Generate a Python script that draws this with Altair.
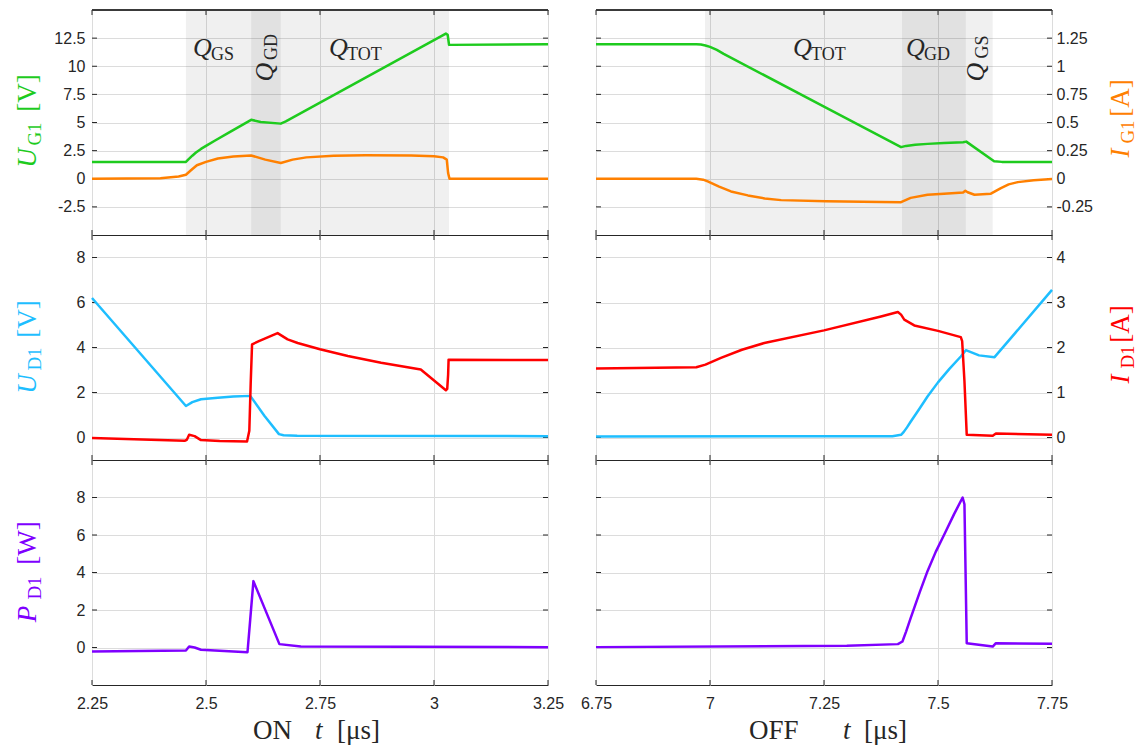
import altair as alt
import pandas as pd

# ---------------- data ----------------
ON_T_UG1 = [2.25, 2.456, 2.462, 2.47, 2.478, 2.489, 2.50, 2.52, 2.55, 2.599, 2.62, 2.664, 2.675,
            3.026, 3.030, 3.033, 3.25]
ON_UG1 = [1.5, 1.5, 1.75, 2.05, 2.33, 2.65, 2.92, 3.4, 4.1, 5.24, 5.05, 4.9, 5.1,
          12.9, 12.8, 11.9, 11.95]
ON_T_IG1 = [2.25, 2.40, 2.44, 2.456, 2.467, 2.48, 2.50, 2.526, 2.56, 2.599, 2.63, 2.664, 2.69,
            2.72, 2.78, 2.85, 2.95, 3.0, 3.02, 3.028, 3.031, 3.034, 3.25]
ON_IG1 = [0.0, 0.005, 0.02, 0.036, 0.075, 0.12, 0.15, 0.18, 0.197, 0.207, 0.17, 0.14, 0.17,
          0.19, 0.205, 0.208, 0.207, 0.2, 0.19, 0.17, 0.05, 0.0, 0.0]

OFF_T_UG1 = [6.75, 6.97, 6.98, 6.99, 7.0, 7.015, 7.03, 7.25, 7.419, 7.43, 7.45, 7.477,
             7.513, 7.555, 7.562, 7.623, 7.64, 7.75]
OFF_UG1 = [11.95, 11.95, 11.93, 11.85, 11.72, 11.45, 11.1, 6.41, 2.81, 2.92, 3.03, 3.1,
           3.17, 3.25, 3.3, 1.55, 1.5, 1.5]
OFF_T_IG1 = [6.75, 6.97, 6.985, 6.995, 7.02, 7.046, 7.083, 7.12, 7.156, 7.254, 7.375, 7.419,
             7.44, 7.477, 7.513, 7.555, 7.56, 7.565, 7.58, 7.616, 7.638, 7.655, 7.675, 7.71, 7.75]
OFF_IG1 = [0.0, 0.0, -0.008, -0.024, -0.07, -0.113, -0.148, -0.175, -0.19, -0.2, -0.207, -0.208,
           -0.17, -0.142, -0.133, -0.123, -0.107, -0.12, -0.142, -0.133, -0.083, -0.05, -0.03,
           -0.013, -0.003]

ON_T_UD1 = [2.25, 2.456, 2.47, 2.489, 2.526, 2.56, 2.597, 2.628, 2.66, 2.67, 2.70, 3.25]
ON_UD1 = [6.2, 1.40, 1.57, 1.70, 1.77, 1.82, 1.85, 0.97, 0.15, 0.1, 0.08, 0.06]
ON_T_ID1 = [2.25, 2.453, 2.458, 2.463, 2.475, 2.489, 2.53, 2.59, 2.595, 2.598, 2.601, 2.616,
            2.657, 2.679, 2.701, 2.75, 2.811, 2.884, 2.971, 3.026, 3.029, 3.031, 3.032, 3.25]
ON_ID1 = [-0.01, -0.073, -0.05, 0.06, 0.03, -0.058, -0.08, -0.088, 0.15, 1.2, 2.07, 2.14,
          2.32, 2.18, 2.10, 1.96, 1.81, 1.66, 1.51, 1.05, 1.08, 1.40, 1.73, 1.72]

OFF_T_UD1 = [6.75, 7.40, 7.419, 7.425, 7.432, 7.44, 7.45, 7.46, 7.477, 7.50, 7.525, 7.55, 7.561,
             7.59, 7.624, 7.75]
OFF_UD1 = [0.04, 0.06, 0.12, 0.25, 0.45, 0.7, 1.0, 1.3, 1.82, 2.45, 3.05, 3.6, 3.88,
           3.65, 3.57, 6.56]
OFF_T_ID1 = [6.75, 6.97, 6.99, 7.024, 7.07, 7.119, 7.25, 7.375, 7.412, 7.419, 7.426, 7.448,
             7.50, 7.55, 7.553, 7.558, 7.563, 7.62, 7.627, 7.75]
OFF_ID1 = [1.535, 1.56, 1.62, 1.77, 1.95, 2.10, 2.38, 2.69, 2.79, 2.73, 2.62, 2.49,
           2.37, 2.23, 2.14, 1.25, 0.06, 0.04, 0.09, 0.06]

ON_T_PD1 = [2.25, 2.456, 2.463, 2.475, 2.489, 2.591, 2.597, 2.604, 2.661, 2.708, 3.25]
ON_PD1 = [-0.21, -0.16, 0.05, 0.0, -0.12, -0.25, 1.5, 3.54, 0.18, 0.05, 0.02]
OFF_T_PD1 = [6.75, 7.30, 7.412, 7.422, 7.43, 7.44, 7.46, 7.477, 7.495, 7.514, 7.535, 7.554,
             7.558, 7.563, 7.62, 7.627, 7.75]
OFF_PD1 = [0.02, 0.09, 0.18, 0.32, 0.85, 1.57, 2.95, 4.07, 5.1, 6.04, 7.1, 8.0,
           7.64, 0.23, 0.05, 0.23, 0.2]

# charge intervals (shaded)
ON_SPAN = [2.456, 3.033]
ON_GD = [2.599, 2.664]
OFF_SPAN = [6.989, 7.62]
OFF_GD = [7.421, 7.561]

# axes
ON_DOM = [2.25, 3.25]
OFF_DOM = [6.75, 7.75]
ON_XT = [2.25, 2.5, 2.75, 3, 3.25]
OFF_XT = [6.75, 7, 7.25, 7.5, 7.75]
UG_DOM = [-5, 15]
UG_T = [-2.5, 0, 2.5, 5, 7.5, 10, 12.5]
IG_DOM = [-0.5, 1.5]
IG_T = [-0.25, 0, 0.25, 0.5, 0.75, 1, 1.25]
UD_DOM = [-1, 9]
UD_T = [0, 2, 4, 6, 8]
ID_DOM = [-0.5, 4.5]
ID_T = [0, 1, 2, 3, 4]
PD_DOM = [-2, 10]
PD_T = [0, 2, 4, 6, 8]

# ---------------- style ----------------
GREEN = "#1ecb1e"
ORANGE = "#ff8000"
CYAN = "#1ebeff"
RED = "#ff0000"
PURPLE = "#7f00ff"
AX = "#262626"
GRID = "#dcdcdc"
SERIF = "Liberation Serif"
SANS = "Liberation Sans"
W = 456
H = 225
TICK = 5
EXT_L = 86
EXT_R = 85
ONE = pd.DataFrame({"k": [0]})


def xenc(field, dom, ticks, labels):
    ax = alt.Axis(values=ticks, grid=True, gridColor=GRID, gridWidth=1, labels=labels,
                  ticks=False, domain=False, title=None, labelExpr="'' + datum.value",
                  labelFont=SANS, labelFontSize=16, labelColor=AX, labelPadding=10,
                  labelFlush=False, labelOverlap=False, labelBound=False,
                  minExtent=26 if labels else 0, maxExtent=26 if labels else 0)
    return alt.X(f"{field}:Q", scale=alt.Scale(domain=dom, nice=False, zero=False), axis=ax)


def yaxis(orient, ticks, labels, grid, extent, pad=7):
    return alt.Axis(orient=orient, values=ticks, labels=labels, grid=grid, gridColor=GRID,
                    gridWidth=1, ticks=False, domain=False, title=None,
                    labelExpr="'' + datum.value", labelFont=SANS, labelFontSize=16,
                    labelColor=AX, labelPadding=pad, minExtent=extent, maxExtent=extent,
                    labelOverlap=False, labelBound=False, labelFlush=False)


def line(t, v, color, ydom, axis, xd, xt, xl):
    df = pd.DataFrame({"t": t, "v": v})
    return alt.Chart(df).mark_line(color=color, strokeWidth=2.5, strokeJoin="round").encode(
        x=xenc("t", xd, xt, xl),
        y=alt.Y("v:Q", scale=alt.Scale(domain=ydom, nice=False, zero=False), axis=axis))


def shade(span, xd, xt, xl):
    df = pd.DataFrame({"a": [span[0]], "b": [span[1]]})
    return alt.Chart(df).mark_rect(color="black", opacity=0.06).encode(
        x=xenc("a", xd, xt, xl), x2="b", y=alt.value(0), y2=alt.value(H))


def yticks(vals, dom):
    df = pd.DataFrame({"v": vals})
    ys = alt.Y("v:Q", scale=alt.Scale(domain=dom, nice=False, zero=False), axis=None)
    l = alt.Chart(df).mark_rule(color=AX, strokeWidth=1).encode(
        y=ys, x=alt.value(0), x2=alt.value(TICK))
    r = alt.Chart(df).mark_rule(color=AX, strokeWidth=1).encode(
        y=ys, x=alt.value(W - TICK), x2=alt.value(W))
    return [l, r]


def xticks(xd, xt, xl):
    df = pd.DataFrame({"v": xt})
    t = alt.Chart(df).mark_rule(color=AX, strokeWidth=1).encode(
        x=xenc("v", xd, xt, xl), y=alt.value(0), y2=alt.value(TICK))
    b = alt.Chart(df).mark_rule(color=AX, strokeWidth=1).encode(
        x=xenc("v", xd, xt, xl), y=alt.value(H - TICK), y2=alt.value(H))
    return [t, b]


def topedge():
    return alt.Chart(ONE).mark_rule(color="#3a3a3a", strokeWidth=2).encode(
        x=alt.value(0), x2=alt.value(W), y=alt.value(0))


def txt(s, x, y, size, color=AX, italic=False, angle=0, align="left", baseline="alphabetic"):
    kw = dict(text=s, font=SERIF, fontSize=size, color=color, align=align, baseline=baseline,
              fontStyle="italic" if italic else "normal")
    if angle:
        kw["angle"] = angle
    return alt.Chart(ONE).mark_text(**kw).encode(x=alt.value(x), y=alt.value(y))


def qlab(sub, x, y):
    return [txt("Q", x, y, 26, italic=True), txt(sub, x + 18, y + 3.5, 18)]


def qlab_rot(sub, x, y):
    return [txt("Q", x, y, 26, italic=True, angle=270, align="center"),
            txt(sub, x + 4, y - 25, 18, angle=270, align="center")]


def ytitle(main, sub, unit, color, xb, yc):
    # rotated label, reading bottom to top; yc are centres of the three parts
    return [txt(main, xb, yc[0], 27, color=color, italic=True, angle=270, align="center"),
            txt(sub, xb + 5, yc[1], 19, color=color, angle=270, align="center"),
            txt(unit, xb, yc[2], 27, color=color, angle=270, align="center")]


def panel(layers):
    return alt.layer(*layers).resolve_scale(y="independent").properties(width=W, height=H)


# ---------- top row ----------
tl = [shade(ON_SPAN, ON_DOM, ON_XT, False), shade(ON_GD, ON_DOM, ON_XT, False)]
tl += xticks(ON_DOM, ON_XT, False) + yticks(UG_T, UG_DOM)
tl += [line(ON_T_UG1, ON_UG1, GREEN, UG_DOM, yaxis("left", UG_T, True, True, EXT_L), ON_DOM, ON_XT, False),
       line(ON_T_IG1, ON_IG1, ORANGE, IG_DOM, None, ON_DOM, ON_XT, False)]
tl += qlab("GS", 101, 46) + qlab_rot("GD", 181, 62) + qlab("TOT", 237, 46)
tl += ytitle("U", "G1", "[V]", GREEN, -56, [148, 124, 83])
tl += [topedge()]

tr = [shade(OFF_SPAN, OFF_DOM, OFF_XT, False), shade(OFF_GD, OFF_DOM, OFF_XT, False)]
tr += xticks(OFF_DOM, OFF_XT, False) + yticks(UG_T, UG_DOM)
tr += [line(OFF_T_UG1, OFF_UG1, GREEN, UG_DOM, yaxis("left", UG_T, False, True, 0), OFF_DOM, OFF_XT, False),
       line(OFF_T_IG1, OFF_IG1, ORANGE, IG_DOM, yaxis("right", IG_T, True, False, EXT_R, 4), OFF_DOM, OFF_XT, False)]
tr += qlab("TOT", 197, 46) + qlab("GD", 310, 46) + qlab_rot("GS", 388, 62)
tr += ytitle("I", "G1", "[A]", ORANGE, W + 77, [143, 122, 88])
tr += [topedge()]

# ---------- middle row ----------
ml = xticks(ON_DOM, ON_XT, False) + yticks(UD_T, UD_DOM)
ml += [line(ON_T_UD1, ON_UD1, CYAN, UD_DOM, yaxis("left", UD_T, True, True, EXT_L), ON_DOM, ON_XT, False),
       line(ON_T_ID1, ON_ID1, RED, ID_DOM, None, ON_DOM, ON_XT, False)]
ml += ytitle("U", "D1", "[V]", CYAN, -56, [149, 124, 84])

mr = xticks(OFF_DOM, OFF_XT, False) + yticks(UD_T, UD_DOM)
mr += [line(OFF_T_UD1, OFF_UD1, CYAN, UD_DOM, yaxis("left", UD_T, False, True, 0), OFF_DOM, OFF_XT, False),
       line(OFF_T_ID1, OFF_ID1, RED, ID_DOM, yaxis("right", ID_T, True, False, EXT_R, 4), OFF_DOM, OFF_XT, False)]
mr += ytitle("I", "D1", "[A]", RED, W + 77, [144, 122, 89])

# ---------- bottom row ----------
bl = xticks(ON_DOM, ON_XT, True) + yticks(PD_T, PD_DOM)
bl += [line(ON_T_PD1, ON_PD1, PURPLE, PD_DOM, yaxis("left", PD_T, True, True, EXT_L), ON_DOM, ON_XT, True)]
bl += ytitle("P", "D1", "[W]", PURPLE, -56, [154, 128, 83])
bl += [txt("ON", 161, 279, 27), txt("t", 223, 279, 27, italic=True), txt("[μs]", 245, 279, 27)]

br = xticks(OFF_DOM, OFF_XT, True) + yticks(PD_T, PD_DOM)
br += [line(OFF_T_PD1, OFF_PD1, PURPLE, PD_DOM, yaxis("left", PD_T, False, True, 0), OFF_DOM, OFF_XT, True)]
br += [txt("OFF", 153, 279, 27), txt("t", 247, 279, 27, italic=True), txt("[μs]", 268, 279, 27)]

chart = alt.concat(
    panel(tl), panel(tr), panel(ml), panel(mr), panel(bl), panel(br),
    columns=2, bounds="flush", spacing={"row": 0, "column": 48},
).properties(
    padding={"left": 5, "top": 8, "right": 0, "bottom": 0},
    background="white",
).configure_view(stroke=AX, strokeWidth=1)

chart.save("out.html", embed_options={"renderer": "svg", "actions": False})
